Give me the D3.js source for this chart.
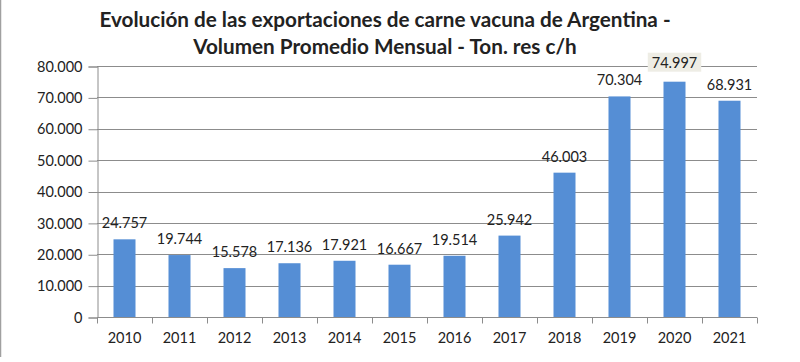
<!DOCTYPE html>
<html>
<head>
  <meta charset="utf-8">
  <title>Exportaciones carne vacuna</title>
  <style>
    body { margin: 0; background: #fff; }
    text { font-family: Lato, "Open Sans", sans-serif; fill: #222; }
  </style>
</head>
<body>
  <script src="https://cdn.jsdelivr.net/npm/d3@7"></script>
  <script>
    // datos
    var years = ['2010', '2011', '2012', '2013', '2014', '2015', '2016', '2017', '2018', '2019', '2020', '2021']
    var volumen = [24757, 19744, 15578, 17136, 17921, 16667, 19514, 25942, 46003, 70304, 74997, 68931]
    var yTicks = [0, 10000, 20000, 30000, 40000, 50000, 60000, 70000, 80000]
    var titulo = ['Evolución de las exportaciones de carne vacuna de Argentina -',
      'Volumen Promedio Mensual - Ton. res c/h']

    var width = 800, height = 362
    var margin = { top: 66, right: 43, bottom: 45, left: 97 }

    // formato con punto de miles
    var fmt = function (v) {
      var s = d3.format(',')(v).replace(/,/g, '.')
      return s
    }

    var svg = d3.select('body').append('svg')
      .attr('width', width)
      .attr('height', height)

    // borde izquierdo de la imagen
    svg.append('line')
      .attr('x1', 0.5).attr('x2', 0.5)
      .attr('y1', 0).attr('y2', 357)
      .attr('stroke', '#a0a0a0').attr('stroke-width', 1.5)

    svg.selectAll('.titulo')
      .data(titulo)
      .enter()
      .append('text')
      .attr('class', 'titulo')
      .attr('x', 385)
      .attr('y', (d, i) => 27 + i * 27)
      .attr('text-anchor', 'middle')
      .attr('font-size', '20.7px')
      .attr('font-weight', 'bold')
      .text(d => d)

    var x = d3.scaleBand()
      .domain(years)
      .range([margin.left, width - margin.right])
      .paddingInner(0.6)
      .paddingOuter(0.3)

    var y = d3.scaleLinear()
      .domain([0, 80000])
      .range([height - margin.bottom, margin.top])

    // lineas de grilla
    svg.append('g')
      .selectAll('line')
      .data(yTicks.slice(1))
      .enter()
      .append('line')
      .attr('x1', margin.left)
      .attr('x2', width - margin.right)
      .attr('y1', d => Math.round(y(d)) + 0.5)
      .attr('y2', d => Math.round(y(d)) + 0.5)
      .attr('stroke', '#8c8c8c')

    // eje Y
    var yAxis = svg.append('g')
      .attr('transform', 'translate(' + (margin.left + 0.5) + ',0.5)')
      .call(d3.axisLeft(y).tickValues(yTicks).tickSize(9).tickPadding(6).tickFormat(fmt))
    yAxis.select('.domain').attr('stroke', '#8c8c8c')
    yAxis.selectAll('.tick line').attr('stroke', '#8c8c8c')
    yAxis.selectAll('.tick text').attr('font-size', '14.5px').attr('fill', '#222')
      .attr('font-family', 'Lato, sans-serif')

    // eje X: marcas entre categorias
    var xAxisG = svg.append('g')
      .attr('transform', 'translate(0,' + (Math.round(y(0)) + 0.5) + ')')
    xAxisG.append('line')
      .attr('x1', margin.left).attr('x2', width - margin.right)
      .attr('stroke', '#8c8c8c')
    var step = x.step()
    var bordes = d3.range(years.length + 1).map(i => margin.left + i * step)
    xAxisG.selectAll('.tk')
      .data(bordes)
      .enter()
      .append('line')
      .attr('class', 'tk')
      .attr('x1', d => Math.round(d) + 0.5)
      .attr('x2', d => Math.round(d) + 0.5)
      .attr('y1', 0).attr('y2', 6)
      .attr('stroke', '#8c8c8c')
    xAxisG.selectAll('.lab')
      .data(years)
      .enter()
      .append('text')
      .attr('class', 'lab')
      .attr('x', d => x(d) + x.bandwidth() / 2)
      .attr('y', 25)
      .attr('text-anchor', 'middle')
      .attr('font-size', '14.5px')
      .text(d => d)

    // barras
    svg.append('g')
      .selectAll('rect')
      .data(volumen)
      .enter()
      .append('rect')
      .attr('x', (d, i) => x(years[i]))
      .attr('width', x.bandwidth())
      .attr('y', d => y(d))
      .attr('height', d => y(0) - y(d))
      .attr('fill', '#558ed5')

    // etiquetas de valores
    var etiquetas = svg.append('g')
    volumen.forEach(function (v, i) {
      var cx = x(years[i]) + x.bandwidth() / 2
      var by = y(v) - 11
      if (years[i] === '2020') by = y(v) - 14
      var t = etiquetas.append('text')
        .attr('x', cx)
        .attr('y', by)
        .attr('text-anchor', 'middle')
        .attr('font-size', '14.5px')
        .text(fmt(v))
      if (years[i] === '2020') {
        var bb = t.node().getBBox()
        etiquetas.insert('rect', 'text')
          .attr('x', bb.x - 4)
          .attr('y', bb.y - 1)
          .attr('width', bb.width + 8)
          .attr('height', bb.height + 2)
          .attr('fill', '#eeede5')
      }
    })
  </script>
</body>
</html>
